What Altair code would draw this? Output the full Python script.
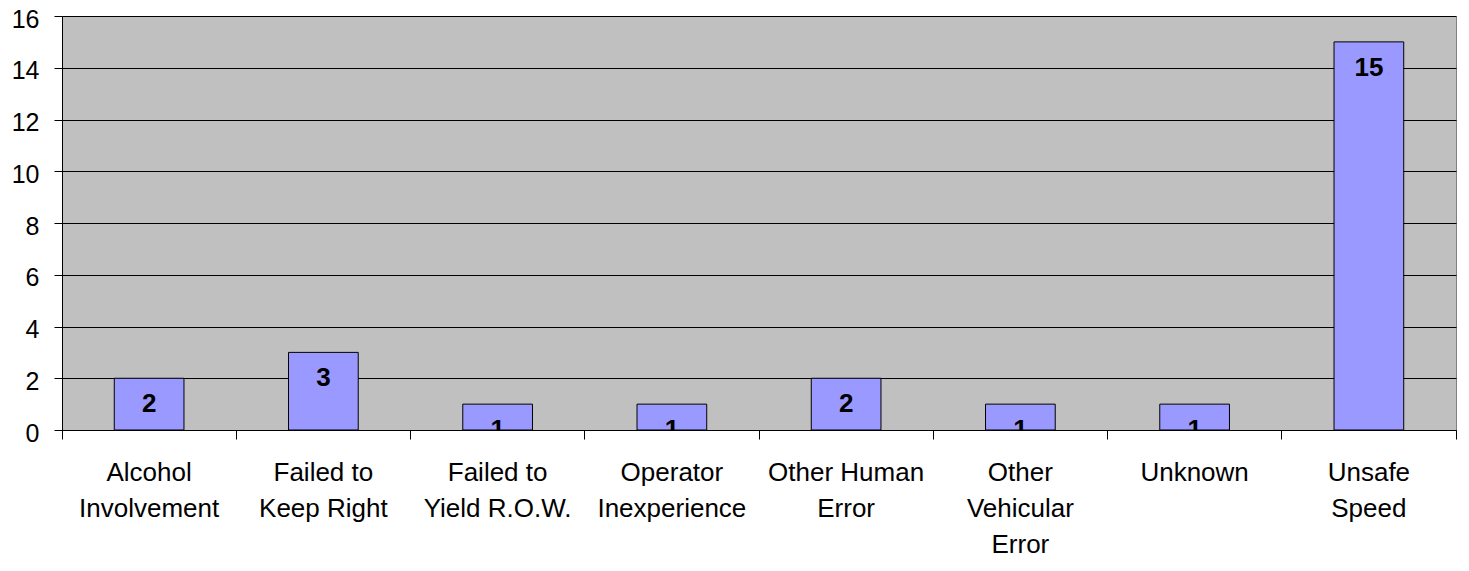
import altair as alt
import pandas as pd

categories = [
    "Alcohol\nInvolvement",
    "Failed to\nKeep Right",
    "Failed to\nYield R.O.W.",
    "Operator\nInexperience",
    "Other Human\nError",
    "Other\nVehicular\nError",
    "Unknown",
    "Unsafe\nSpeed",
]
values = [2, 3, 1, 1, 2, 1, 1, 15]
y_ticks = [0, 2, 4, 6, 8, 10, 12, 14, 16]

df = pd.DataFrame({"cause": categories, "count": values})

FONT = "Liberation Sans, Arial, sans-serif"

x_enc = alt.X(
    "cause:N",
    sort=None,
    scale=alt.Scale(paddingInner=0, paddingOuter=0),
    axis=alt.Axis(
        title=None,
        labelAngle=0,
        labelFont=FONT,
        labelFontSize=26,
        labelColor="#000000",
        labelLineHeight=36,
        labelPadding=20,
        labelLimit=0,
        labelExpr="split(datum.label, '\\n')",
        bandPosition=1,
        tickExtra=True,
        tickSize=9,
        tickColor="#000000",
        domainColor="#000000",
        grid=False,
    ),
)

y_enc = alt.Y(
    "count:Q",
    scale=alt.Scale(domain=[0, 16], nice=False),
    axis=alt.Axis(
        title=None,
        values=y_ticks,
        labelFont=FONT,
        labelFontSize=25,
        labelColor="#000000",
        labelPadding=15,
        labelOffset=3,
        tickSize=8,
        tickColor="#000000",
        domainColor="#000000",
        grid=True,
        gridColor="#000000",
        gridWidth=1,
    ),
)

bars = alt.Chart(df).mark_bar(
    width=alt.RelativeBandSize(0.4),
    color="#9999FF",
    stroke="#000000",
    strokeWidth=1,
).encode(x=x_enc, y=y_enc)

labels = alt.Chart(df).mark_text(
    baseline="top",
    dy=13,
    font=FONT,
    fontSize=26,
    fontWeight="bold",
    color="#000000",
    clip=True,
).encode(x=alt.X("cause:N", sort=None), y="count:Q", text="count:Q")

chart = (
    alt.layer(bars, labels)
    .properties(
        width=1394,
        height=414,
        autosize=alt.AutoSizeParams(type="none"),
        padding={"left": 54, "top": 8, "right": 5, "bottom": 133},
        background="#FFFFFF",
    )
    .configure_view(fill="#C0C0C0", stroke="#808080", strokeWidth=1)
)

chart.save("out.html", embed_options={"renderer": "svg", "actions": False})
